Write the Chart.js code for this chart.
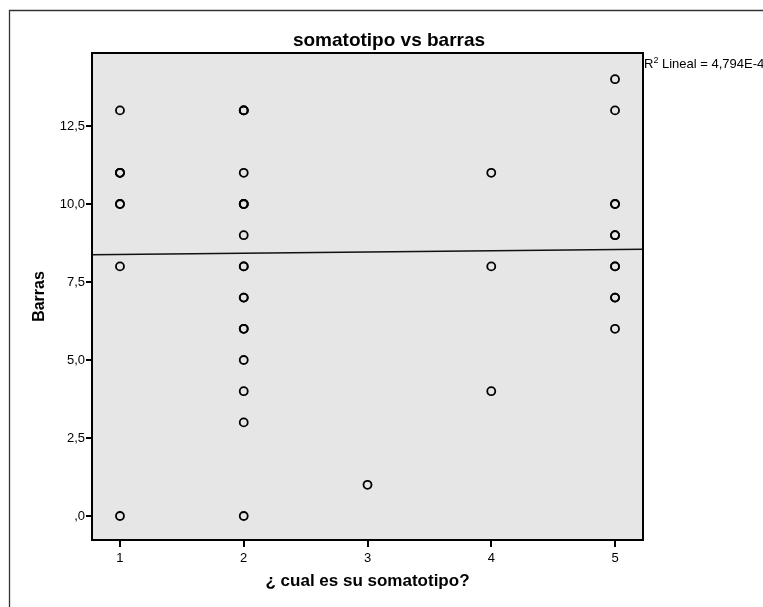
<!DOCTYPE html>
<html>
<head>
<meta charset="utf-8">
<script src="https://cdn.jsdelivr.net/npm/chart.js@4.4.1/dist/chart.umd.min.js"></script>
<style>
  html, body { margin: 0; padding: 0; background: #ffffff; }
  #wrap { width: 763px; height: 607px; }
</style>
</head>
<body>
<div id="wrap"><canvas id="c" width="763" height="607"></canvas></div>
<script>
// Somatotype category (1-5) for each observation
const somatotipo = [
  1, 1, 1, 1, 1, 1, 1, 1,
  2, 2, 2, 2, 2, 2, 2, 2, 2, 2, 2, 2, 2, 2, 2, 2, 2, 2,
  3,
  4, 4, 4,
  5, 5, 5, 5, 5, 5, 5, 5, 5, 5, 5
];
// "Barras" score for each observation (repeated values overlap)
const barras = [
  13, 11, 11, 10, 10, 8, 0, 11,
  13, 13, 11, 10, 10, 9, 8, 8, 7, 7, 6, 6, 5, 4, 3, 0, 10, 13,
  1,
  11, 8, 4,
  14, 13, 10, 10, 9, 9, 8, 8, 7, 7, 6
];

// Linear fit shown over the whole x range
const fitIntercept = 8.34;
const fitSlope = 0.04;
const r2Value = '4,794E-4';

// Axis ticks and labels
const xTickValues = [1, 2, 3, 4, 5];
const xTickLabels = ['1', '2', '3', '4', '5'];
const yTickValues = [0, 2.5, 5, 7.5, 10, 12.5];
const yTickLabels = [',0', '2,5', '5,0', '7,5', '10,0', '12,5'];

const xRange = [0.774, 5.226];
const yRange = [-0.77, 14.84];

const points = somatotipo.map((x, i) => ({ x: x, y: barras[i] }));
const fitPoints = xRange.map(x => ({ x: x, y: fitIntercept + fitSlope * x }));

const FONT = '"Liberation Sans", Arial, sans-serif';

const decor = {
  id: 'decor',
  beforeDraw(chart) {
    const { ctx, chartArea: a } = chart;
    ctx.save();
    // outer frame (top and left edges)
    ctx.strokeStyle = '#333333';
    ctx.lineWidth = 1.3;
    ctx.beginPath();
    ctx.moveTo(9.5, 607);
    ctx.lineTo(9.5, 10.5);
    ctx.lineTo(763, 10.5);
    ctx.stroke();
    // plot background
    ctx.fillStyle = '#e6e6e6';
    ctx.fillRect(a.left, a.top, a.right - a.left, a.bottom - a.top);
    ctx.restore();
  },
  afterDraw(chart) {
    const { ctx, chartArea: a } = chart;
    ctx.save();
    ctx.strokeStyle = '#000000';
    ctx.lineWidth = 2;
    ctx.strokeRect(a.left, a.top, a.right - a.left, a.bottom - a.top);

    ctx.fillStyle = '#000000';
    // chart title
    ctx.font = 'bold 19px ' + FONT;
    ctx.textAlign = 'center';
    ctx.textBaseline = 'alphabetic';
    ctx.fillText('somatotipo vs barras', 389, 46);

    // x axis title
    ctx.font = 'bold 17px ' + FONT;
    ctx.fillText('¿ cual es su somatotipo?', (a.left + a.right) / 2, 586);

    // y axis title
    ctx.save();
    ctx.translate(44, (a.top + a.bottom) / 2);
    ctx.rotate(-Math.PI / 2);
    ctx.font = 'bold 16px ' + FONT;
    ctx.fillText('Barras', 0, 0);
    ctx.restore();

    // R squared label
    ctx.textAlign = 'left';
    let x = a.right + 1;
    const base = 68;
    ctx.font = '13px ' + FONT;
    ctx.fillText('R', x, base);
    x += ctx.measureText('R').width;
    ctx.font = '9px ' + FONT;
    ctx.fillText('2', x, base - 5);
    x += ctx.measureText('2').width;
    ctx.font = '13px ' + FONT;
    ctx.fillText(' Lineal = ' + r2Value, x, base);
    ctx.restore();
  }
};

new Chart(document.getElementById('c'), {
  type: 'scatter',
  data: {
    datasets: [
      {
        data: points,
        showLine: false,
        pointStyle: 'circle',
        pointRadius: 4,
        pointBorderWidth: 1.8,
        pointBorderColor: '#000000',
        pointBackgroundColor: 'rgba(0,0,0,0)',
        order: 1
      },
      {
        data: fitPoints,
        showLine: true,
        borderColor: '#111111',
        borderWidth: 1.5,
        pointRadius: 0,
        fill: false,
        order: 2
      }
    ]
  },
  plugins: [decor],
  options: {
    responsive: false,
    animation: false,
    events: [],
    layout: { padding: { left: 0, right: 120, top: 53, bottom: 0 } },
    plugins: {
      legend: { display: false },
      title: { display: false },
      tooltip: { enabled: false }
    },
    scales: {
      x: {
        type: 'linear',
        min: xRange[0],
        max: xRange[1],
        afterBuildTicks(scale) { scale.ticks = xTickValues.map(v => ({ value: v })); },
        afterFit(scale) { scale.height = 67; },
        ticks: {
          color: '#000000',
          font: { family: FONT, size: 13 },
          padding: 4,
          maxRotation: 0,
          autoSkip: false,
          callback: (v) => xTickLabels[xTickValues.indexOf(v)]
        },
        grid: { drawOnChartArea: false, drawTicks: true, tickLength: 7, color: '#000000', lineWidth: 2 },
        border: { display: true, color: '#000000', width: 2 }
      },
      y: {
        type: 'linear',
        min: yRange[0],
        max: yRange[1],
        afterBuildTicks(scale) { scale.ticks = yTickValues.map(v => ({ value: v })); },
        afterFit(scale) { scale.width = 92; },
        ticks: {
          color: '#000000',
          font: { family: FONT, size: 13 },
          padding: 1,
          autoSkip: false,
          callback: (v) => yTickLabels[yTickValues.indexOf(v)]
        },
        grid: { drawOnChartArea: false, drawTicks: true, tickLength: 6, color: '#000000', lineWidth: 2 },
        border: { display: true, color: '#000000', width: 2 }
      }
    }
  }
});
</script>
</body>
</html>
